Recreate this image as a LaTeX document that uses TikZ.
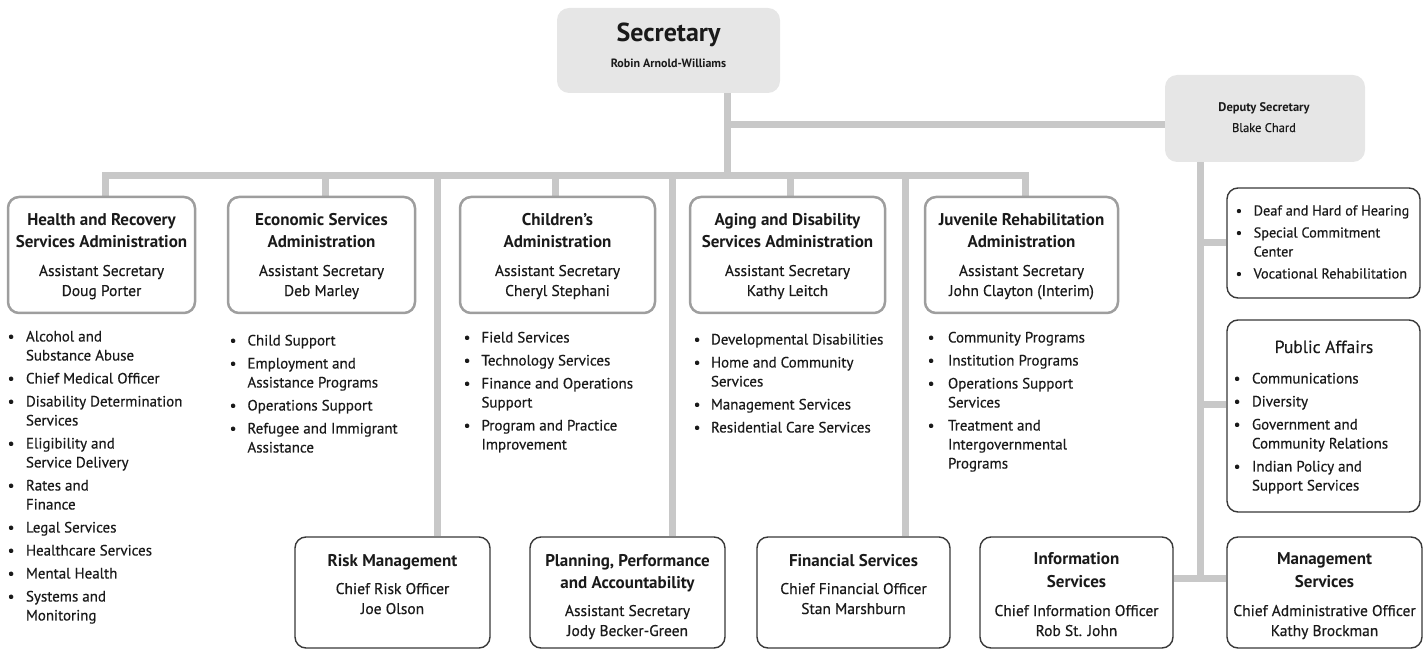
\documentclass[tikz,border=0pt]{standalone}
\usepackage{fontspec}
\setmainfont{PT Sans}
\newfontfamily\semi{PT Sans}[FakeBold=0.4]
\usetikzlibrary{calc}
\pgfdeclarelayer{bg}\pgfsetlayers{bg,main}
\definecolor{lineG}{HTML}{C8C8C8}
\definecolor{fillG}{HTML}{E6E6E6}
\definecolor{brdG}{HTML}{9E9E9E}
\definecolor{brdD}{HTML}{383838}
\definecolor{ink}{HTML}{1A1A1A}
\newcommand\ttl[1]{{\fontsize{17}{20}\selectfont\normalfont\fontsize{17}{20}\selectfont\bfseries #1}}
\newcommand\bl{\textbullet}
\newcommand\gp{\\[4pt]}
\tikzset{
 conn/.style={draw=lineG, line width=7pt},
 topbox/.style={fill=fillG, rounded corners=12pt, draw=none},
 adminbox/.style={draw=brdG, line width=2.5pt, rounded corners=11pt, fill=white},
 darkbox/.style={draw=brdD, line width=1.4pt, rounded corners=11pt, fill=white},
 txt/.style={inner sep=0pt, text=ink, font=\semi\fontsize{15.5}{20}\selectfont, anchor=base},
 lst/.style={inner sep=0pt, text=ink, font=\semi\fontsize{15}{19}\selectfont, anchor=base west},
}
\begin{document}
\begin{tikzpicture}[x=1pt,y=-1pt]
\useasboundingbox (0,0) rectangle (1428,652);
% top boxes
\node[topbox, minimum width=223pt, minimum height=85pt] (sec) at (668.5,50.5) {};
\node[topbox, minimum width=200pt, minimum height=87pt] (dep) at (1265,118.5) {};
% admin boxes
\node[adminbox, minimum width=187pt, minimum height=116pt] (hrsa) at (101.5,255) {};
\node[adminbox, minimum width=187pt, minimum height=116pt] (esa) at (321.5,255) {};
\node[adminbox, minimum width=195pt, minimum height=116pt] (ca) at (557.5,255) {};
\node[adminbox, minimum width=195pt, minimum height=116pt] (ads) at (787.5,255) {};
\node[adminbox, minimum width=193pt, minimum height=116pt] (jra) at (1021.5,255) {};
% bottom boxes
\node[darkbox, minimum width=195pt, minimum height=111pt] (rm) at (392.5,592.5) {};
\node[darkbox, minimum width=195pt, minimum height=111pt] (ppa) at (627.5,592.5) {};
\node[darkbox, minimum width=193pt, minimum height=111pt] (fin) at (853.5,592.5) {};
\node[darkbox, minimum width=193pt, minimum height=111pt] (info) at (1076.5,592.5) {};
\node[darkbox, minimum width=195pt, minimum height=111pt] (mgmt) at (1324.5,592.5) {};
% right boxes
\node[darkbox, minimum width=193pt, minimum height=110pt] (deaf) at (1323.5,243) {};
\node[darkbox, minimum width=193pt, minimum height=192pt] (pa) at (1323.5,416) {};
% junctions
\coordinate (j0) at (727,125);
\coordinate (j1) at (727,176);
\coordinate (d1) at (105,176);
\coordinate (d2) at (325,176);
\coordinate (d3) at (437,176);
\coordinate (d4) at (555,176);
\coordinate (d5) at (672,176);
\coordinate (d6) at (790,176);
\coordinate (d7) at (905,176);
\coordinate (d8) at (1025,176);
\coordinate (k0) at (1200,578);
\coordinate (k1) at (1200,405);
\begin{pgfonlayer}{bg}
\draw[conn] (sec.south -| j0) -- (j1);
\draw[conn] (j0) -- (j0 -| dep.west);
\draw[conn] (d1 |- hrsa.north) -- (d1) -- (d8) -- (d8 |- jra.north);
\draw[conn] (d2) -- (d2 |- esa.north);
\draw[conn] (d3) -- (d3 |- rm.north);
\draw[conn] (d4) -- (d4 |- ca.north);
\draw[conn] (d5) -- (d5 |- ppa.north);
\draw[conn] (d6) -- (d6 |- ads.north);
\draw[conn] (d7) -- (d7 |- fin.north);
\draw[conn] (dep.south -| k0) -- (k0);
\draw[conn] (deaf.west -| k0) -- (deaf.west);
\draw[conn] (k1) -- (k1 -| pa.west);
\draw[conn] (info.east |- k0) -- (mgmt.west |- k0);
\end{pgfonlayer}
% top texts
\node[txt] (secT) at (668.5,42) {\normalfont\fontsize{26}{28}\selectfont\bfseries Secretary};
\node[txt] (secN) at (668.5,68) {\normalfont\fontsize{12}{14}\selectfont\bfseries Robin Arnold-Williams};
\node[txt] (depT) at (1264,112) {\begin{tabular}[t]{@{}c@{}}\normalfont\fontsize{12.5}{14}\selectfont\bfseries Deputy Secretary\\\fontsize{12.5}{14}\selectfont Blake Chard\end{tabular}};
% admin texts
\node[txt] (hrsaT) at (101.5,226) {\begin{tabular}[t]{@{}c@{}}\ttl{Health and Recovery}\\[2pt]\ttl{Services Administration}\\[8pt]Assistant Secretary\\Doug Porter\end{tabular}};
\node[txt] (esaT) at (321.5,226) {\begin{tabular}[t]{@{}c@{}}\ttl{Economic Services}\\[2pt]\ttl{Administration}\\[8pt]Assistant Secretary\\Deb Marley\end{tabular}};
\node[txt] (caT) at (557.5,226) {\begin{tabular}[t]{@{}c@{}}\ttl{Children’s}\\[2pt]\ttl{Administration}\\[8pt]Assistant Secretary\\Cheryl Stephani\end{tabular}};
\node[txt] (adsT) at (787.5,226) {\begin{tabular}[t]{@{}c@{}}\ttl{Aging and Disability}\\[2pt]\ttl{Services Administration}\\[8pt]Assistant Secretary\\Kathy Leitch\end{tabular}};
\node[txt] (jraT) at (1021.5,226) {\begin{tabular}[t]{@{}c@{}}\ttl{Juvenile Rehabilitation}\\[2pt]\ttl{Administration}\\[8pt]Assistant Secretary\\John Clayton (Interim)\end{tabular}};
% bottom texts
\node[txt] (rmT) at (392.5,566) {\begin{tabular}[t]{@{}c@{}}\ttl{Risk Management}\\[8pt]Chief Risk Officer\\Joe Olson\end{tabular}};
\node[txt] (ppaT) at (627.5,566) {\begin{tabular}[t]{@{}c@{}}\ttl{Planning, Performance}\\[2pt]\ttl{and Accountability}\\[8pt]Assistant Secretary\\Jody Becker-Green\end{tabular}};
\node[txt] (finT) at (853.5,566) {\begin{tabular}[t]{@{}c@{}}\ttl{Financial Services}\\[8pt]Chief Financial Officer\\Stan Marshburn\end{tabular}};
\node[txt] (infoT) at (1076.5,564) {\begin{tabular}[t]{@{}c@{}}\ttl{Information}\\[3pt]\ttl{Services}\\[9pt]Chief Information Officer\\Rob St. John\end{tabular}};
\node[txt] (mgmtT) at (1324.5,564) {\begin{tabular}[t]{@{}c@{}}\ttl{Management}\\[3pt]\ttl{Services}\\[9pt]Chief Administrative Officer\\Kathy Brockman\end{tabular}};
% lists
\node[lst] (hrsaL) at (7.5,341.5) {\begin{tabular}[t]{@{}l@{\hspace{11.5pt}}l@{}}
\bl & Alcohol and\\ & Substance Abuse\gp
\bl & Chief Medical Officer\gp
\bl & Disability Determination\\ & Services\gp
\bl & Eligibility and\\ & Service Delivery\gp
\bl & Rates and\\ & Finance\gp
\bl & Legal Services\gp
\bl & Healthcare Services\gp
\bl & Mental Health\gp
\bl & Systems and\\ & Monitoring\end{tabular}};
\node[lst] (esaL) at (229.5,345.5) {\begin{tabular}[t]{@{}l@{\hspace{11pt}}l@{}}
\bl & Child Support\gp
\bl & Employment and\\ & Assistance Programs\gp
\bl & Operations Support\gp
\bl & Refugee and Immigrant\\ & Assistance\end{tabular}};
\node[lst] (caL) at (463.5,342.5) {\begin{tabular}[t]{@{}l@{\hspace{11pt}}l@{}}
\bl & Field Services\gp
\bl & Technology Services\gp
\bl & Finance and Operations\\ & Support\gp
\bl & Program and Practice\\ & Improvement\end{tabular}};
\node[lst] (adsL) at (693.5,344.5) {\begin{tabular}[t]{@{}l@{\hspace{10.5pt}}l@{}}
\bl & Developmental Disabilities\gp
\bl & Home and Community\\ & Services\gp
\bl & Management Services\gp
\bl & Residential Care Services\end{tabular}};
\node[lst] (jraL) at (927.5,342.5) {\begin{tabular}[t]{@{}l@{\hspace{13.5pt}}l@{}}
\bl & Community Programs\gp
\bl & Institution Programs\gp
\bl & Operations Support\\ & Services\gp
\bl & Treatment and\\ & Intergovernmental\\ & Programs\end{tabular}};
\node[lst, font=\semi\fontsize{14.3}{19}\selectfont] (deafL) at (1235.5,215.5) {\begin{tabular}[t]{@{}l@{\hspace{11.5pt}}l@{}}
\bl & Deaf and Hard of Hearing\\[3pt]
\bl & Special Commitment\\ & Center\\[3pt]
\bl & Vocational Rehabilitation\end{tabular}};
\node[txt] (paT) at (1324,353) {\fontsize{17.5}{20}\selectfont Public Affairs};
\node[lst] (paL) at (1233.5,383.5) {\begin{tabular}[t]{@{}l@{\hspace{11.5pt}}l@{}}
\bl & Communications\gp
\bl & Diversity\gp
\bl & Government and\\ & Community Relations\gp
\bl & Indian Policy and\\ & Support Services\end{tabular}};
\end{tikzpicture}
\end{document}
